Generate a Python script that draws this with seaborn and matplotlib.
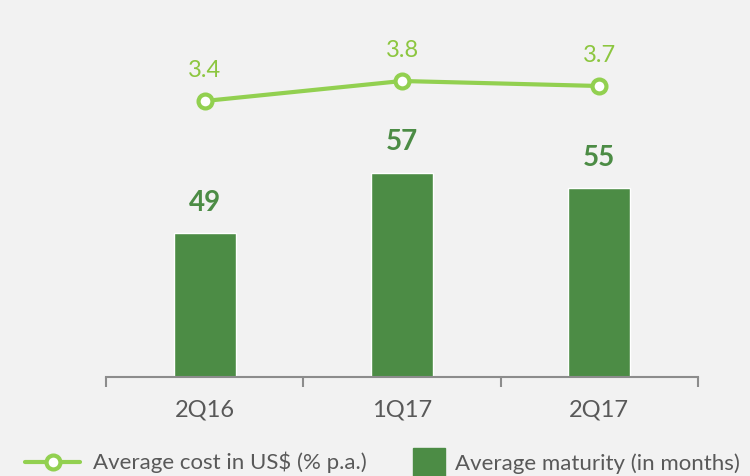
import matplotlib
matplotlib.use("Agg")
import matplotlib.pyplot as plt
import seaborn as sns
import pandas as pd
import numpy as np
from matplotlib.lines import Line2D
from matplotlib.patches import Patch

quarters = ["2Q16", "1Q17", "2Q17"]
maturity = [49, 57, 55]
cost = [3.4, 3.8, 3.7]
maturity_label = "Average maturity (in months)"
cost_label = "Average cost in US$ (% p.a.)"

BG = "#f2f2f2"
BAR = "#4c8c45"
LINE = "#92d050"
LINE_TXT = "#8cc63f"
GRAY = "#595959"

sns.set_theme(style="white")
plt.rcParams["font.family"] = ["Lato", "DejaVu Sans"]

fig = plt.figure(figsize=(7.5, 4.76), dpi=100, facecolor=BG)
ax = fig.add_axes([106/750, 99/476, 592/750, 357/476])
ax.set_facecolor(BG)

df = pd.DataFrame({"quarter": quarters, "maturity": maturity, "cost": cost})
sns.barplot(data=df, x="quarter", y="maturity", color=BAR, saturation=1,
            width=0.315, ax=ax)
ax.set_ylim(30, 30 + 357/7.56)
ax.set_xlim(-0.5, 2.5)
for i, v in enumerate(maturity):
    ax.text(i, v + 2.3, f"{v}", ha="center", va="bottom", fontsize=20,
            fontweight="bold", color=BAR)

ax2 = ax.twinx()
ax2.set_position(ax.get_position())
sns.lineplot(x=np.arange(len(cost)), y=cost, ax=ax2, color=LINE, lw=3,
             marker="o", markersize=10, markerfacecolor="white",
             markeredgecolor=LINE, markeredgewidth=3)
ax2.set_ylim(3.4 - 276/50, 3.4 + 81/50)
ax2.set_xlim(-0.5, 2.5)
for i, v in enumerate(cost):
    ax2.text(i, v + 0.4, f"{v}", ha="center", va="bottom", fontsize=17,
             color=LINE_TXT)

for a in (ax, ax2):
    for s in ["top", "right", "left"]:
        a.spines[s].set_visible(False)
    a.set_ylabel("")
    a.set_xlabel("")
    a.set_yticks([])
ax2.spines["bottom"].set_visible(False)
ax2.set_xticks([])
ax.spines["bottom"].set_color("#8c8c8c")
ax.spines["bottom"].set_linewidth(1.5)
ax.set_xticks(range(len(quarters)))
ax.set_xticklabels(quarters, fontsize=17, color=GRAY)
ax.set_xticks([-0.5, 0.5, 1.5, 2.5], minor=True)
ax.tick_params(axis="x", which="both", bottom=True)
ax.tick_params(axis="x", which="major", length=0, pad=16)
ax.tick_params(axis="x", which="minor", length=7, width=1.5, color="#8c8c8c",
               direction="out")

h_line = Line2D([0], [0], color=LINE, lw=3, marker="o", markersize=10,
                markerfacecolor="white", markeredgecolor=LINE,
                markeredgewidth=3)
h_bar = Patch(facecolor=BAR, edgecolor=BAR)
leg1 = fig.legend([h_line], [cost_label], loc="center left",
                  bbox_to_anchor=(0.033, 0.028), frameon=False,
                  fontsize=16, labelcolor=GRAY, handlelength=2.5,
                  handletextpad=0.55, borderaxespad=0, borderpad=0)
leg2 = fig.legend([h_bar], [maturity_label], loc="center left",
                  bbox_to_anchor=(0.55, 0.028), frameon=False,
                  fontsize=16, labelcolor=GRAY, handlelength=1.45,
                  handleheight=1.6, handletextpad=0.45, borderaxespad=0,
                  borderpad=0)

fig.savefig("out.png", dpi=100, facecolor=BG)
